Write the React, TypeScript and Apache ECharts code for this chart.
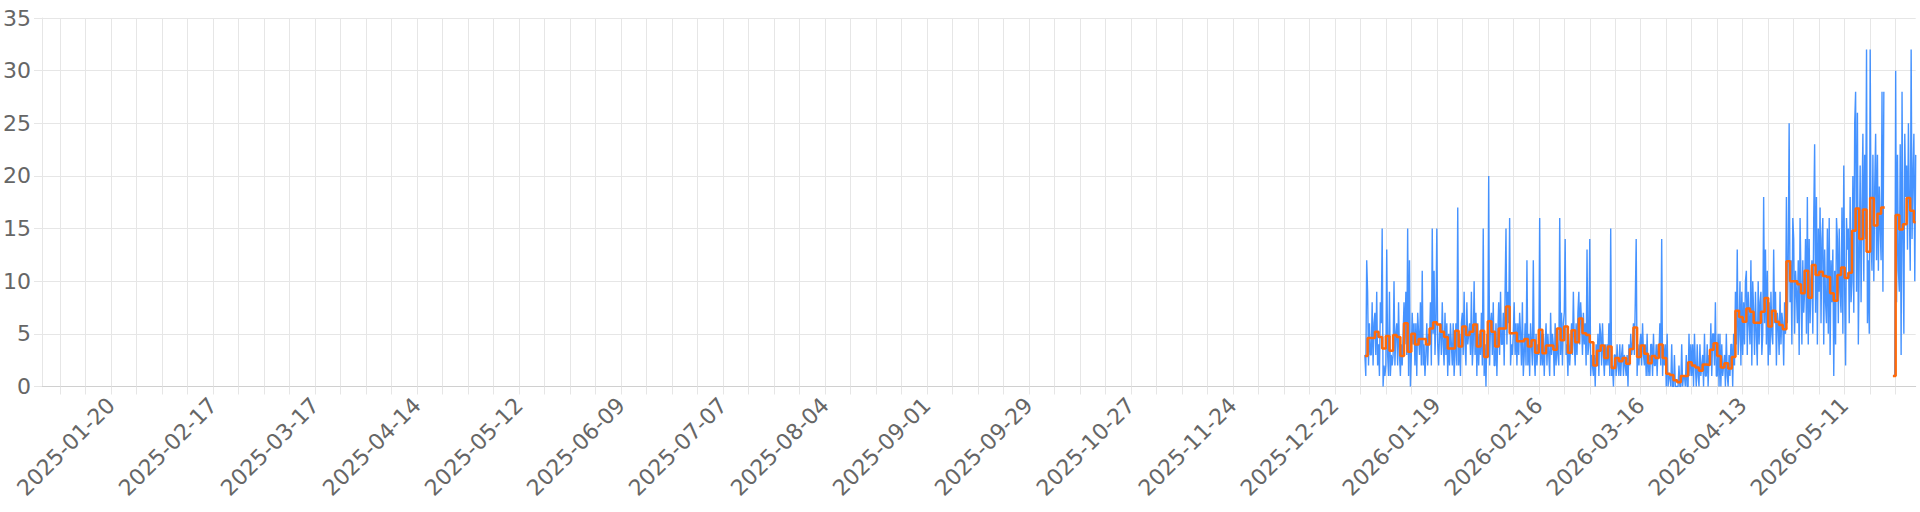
import React, { useEffect, useRef } from "react";
import * as echarts from "echarts";

// ---------- data ----------
const xLabelDates = [
  "2025-01-20", "2025-02-17", "2025-03-17", "2025-04-14", "2025-05-12", "2025-06-09",
  "2025-07-07", "2025-08-04", "2025-09-01", "2025-09-29", "2025-10-27", "2025-11-24",
  "2025-12-22", "2026-01-19", "2026-02-16", "2026-03-16", "2026-04-13", "2026-05-11",
];
const yTicks = [0, 5, 10, 15, 20, 25, 30, 35];

// axis range
const xStart = "2025-01-01T00:00:00Z";
const xEnd = "2026-05-30T12:00:00Z";

// blue series: one sample every 6 hours, starting 2025-12-30 06:00
const blueStart = "2025-12-30T06:00:00Z";
const blueDec = [3, 1, 12, 9, 2, 6, 3];
const blueJan = [
  3, 8, 2, 6, 7, 3, 9, 2, 4, 1, 8, 6, 15, 0, 2, 1, 2, 13, 3, 1, 9, 1, 3, 2, 3, 10, 2, 5,
  6, 2, 8, 3, 1, 4, 2, 5, 8, 4, 9, 3, 15, 1, 12, 0, 3, 7, 4, 6, 2, 6, 1, 7, 5, 3, 8, 2,
  11, 2, 4, 1, 3, 6, 2, 5, 4, 8, 2, 15, 5, 11, 3, 6, 15, 4, 2, 5, 6, 3, 8, 4, 2, 7, 3, 6,
  1, 5, 2, 6, 4, 2, 6, 1, 3, 6, 2, 17, 2, 5, 1, 6, 7, 3, 9, 4, 2, 8, 4, 5, 6, 3, 9, 2,
  4, 10, 3, 7, 1, 6, 2, 5, 3, 7, 2, 15,
];
const blueFeb = [
  1, 4, 0, 5, 3, 20, 2, 6, 7, 3, 8, 2, 2, 6, 1, 5, 8, 3, 9, 4, 4, 7, 2, 9, 15, 4, 9, 6,
  16, 2, 4, 3, 5, 8, 3, 6, 2, 6, 3, 7, 5, 2, 8, 1, 3, 6, 2, 12, 2, 5, 1, 6, 4, 2, 12, 3,
  1, 5, 2, 4, 3, 16, 2, 5, 2, 5, 1, 4, 6, 2, 5, 3, 1, 7, 3, 5, 4, 1, 6, 2, 5, 3, 2, 16,
  3, 7, 2, 6, 7, 14, 3, 4, 1, 5, 2, 4, 6, 3, 9, 4, 2, 6, 3, 7, 9, 4, 8, 6, 3, 7, 4, 6,
];
const blueMar = [
  2, 13, 3, 4, 14, 1, 3, 2, 1, 3, 0, 4, 2, 5, 1, 6, 5, 2, 6, 3, 1, 4, 2, 4, 2, 6, 1, 15,
  1, 2, 0, 3, 3, 1, 4, 2, 1, 4, 1, 3, 4, 1, 3, 2, 1, 3, 0, 4, 2, 5, 3, 4, 6, 3, 8, 14,
  1, 4, 2, 4, 5, 2, 6, 3, 2, 4, 1, 5, 1, 3, 1, 4, 4, 1, 5, 2, 2, 4, 1, 4, 3, 6, 2, 14,
  1, 4, 2, 4, 0, 5, 0, 1, 1, 0, 4, 0, 0, 3, 0, 0, 0, 0, 2, 0, 0, 4, 0, 1, 1, 0, 3, 0,
  0, 5, 1, 4, 1, 4, 0, 5, 2, 0, 4, 1,
];
const blueApr = [
  0, 4, 1, 2, 3, 0, 5, 1, 1, 4, 0, 3, 2, 6, 1, 5, 5, 2, 8, 1, 1, 5, 0, 5, 0, 4, 1, 2,
  3, 0, 5, 1, 0, 3, 1, 4, 4, 0, 5, 2, 9, 4, 13, 3, 5, 10, 2, 9, 3, 8, 4, 10, 11, 3, 9, 6,
  4, 12, 2, 10, 7, 3, 9, 5, 2, 10, 4, 8, 9, 3, 5, 18, 6, 13, 4, 11, 2, 8, 3, 9, 5, 4, 13, 6,
  9, 2, 7, 6, 3, 9, 4, 7, 6, 2, 8, 5, 18, 6, 12, 25, 8, 12, 4, 16, 14, 5, 11, 9, 6, 12, 3, 16,
  10, 4, 12, 7, 9, 14, 5, 18,
];
const blueMay = [
  4, 14, 6, 10, 12, 5, 16, 23, 7, 18, 4, 15, 9, 17, 6, 14, 16, 4, 13, 8, 6, 15, 5, 16,
  3, 12, 8, 13, 1, 11, 4, 16, 14, 6, 15, 9, 7, 17, 5, 21, 9, 2, 16, 13, 15, 6, 18, 8,
  10, 20, 7, 25, 28, 9, 26, 4, 12, 21, 8, 17, 24, 10, 22, 14, 32, 6, 12, 5, 32, 14, 11, 22,
  10, 19, 24, 12, 22, 11, 19, 15, 12, 28, 9, 28,
  null, null, null, null, null, null, null, null, null, 1, 1, 1,
  30, 8, 22, 11, 9, 23, 3, 28, 14, 5, 24, 18, 21, 13, 25, 17, 11, 32, 14, 20, 24, 10, 22,
];

// orange series: one value per day, 2025-12-30 .. 2026-05-30
const orangeFirstDay = "2025-12-30T00:00:00Z";
const orangeDec = [2.9, 4.6];
const orangeJan = [
  4.6, 5.2, 4.7, 3.6, 4.8, 3.4, 4.9, 4.7, 2.9, 6.0, 3.3, 5.0, 4.0, 4.5, 4.5, 4.0,
  5.5, 6.1, 5.9, 5.2, 4.7, 3.6, 3.6, 5.3, 3.8, 5.7, 4.9, 5.2, 5.9, 3.8, 5.3,
];
const orangeFeb = [
  2.8, 6.2, 5.2, 3.8, 5.5, 5.5, 7.6, 5.05, 5.1, 4.3, 4.3, 4.5, 3.8, 4.4, 3.2, 5.4,
  3.15, 3.9, 3.9, 3.5, 5.5, 4.4, 5.7, 3.2, 5.35, 4.2, 6.45, 5.05,
];
const orangeMar = [
  4.9, 4.2, 2.0, 3.4, 3.9, 2.7, 3.8, 1.75, 2.7, 2.4, 2.7, 2.15, 3.55, 5.6, 2.8, 3.9,
  3.1, 2.2, 2.9, 2.7, 4.0, 2.7, 1.2, 1.1, 0.6, 0.4, 1.0, 1.0, 2.3, 2.0, 1.8,
];
const orangeApr = [
  1.5, 2.1, 2.05, 3.5, 4.1, 2.9, 1.8, 2.2, 1.7, 2.8, 7.2, 6.6, 6.15, 7.4, 7.1, 6.06,
  6.06, 7.1, 8.4, 5.7, 7.2, 6.15, 5.84, 5.43, 11.9, 10.0, 10.0, 9.7, 8.85, 11.0,
];
const orangeMay = [
  8.43, 11.54, 10.6, 10.9, 10.5, 10.4, 8.85, 8.15, 10.6, 11.3, 10.3, 10.8, 14.8, 16.9, 14.0, 16.8,
  12.8, 17.9, 15.3, 16.4, 17.0, null, null, 1.0, 16.3, 14.9, 15.4, 17.9, 16.7, 15.6,
];

// ---------- helpers ----------
const HOUR = 3600000;
const DAY = 24 * HOUR;
const toTs = (s: string) => Date.parse(s);
const fmt = (v: number) => new Date(v).toISOString().slice(0, 10);

function buildBlue() {
  const vals = [...blueDec, ...blueJan, ...blueFeb, ...blueMar, ...blueApr, ...blueMay];
  const t0 = toTs(blueStart);
  return vals.map((v, i) => [t0 + i * 6 * HOUR, v == null ? "-" : v]);
}

function buildOrange(blue: any[]) {
  const vals = [...orangeDec, ...orangeJan, ...orangeFeb, ...orangeMar, ...orangeApr, ...orangeMay];
  const d0 = toTs(orangeFirstDay);
  const out: any[] = [];
  vals.forEach((v, i) => {
    const ds = d0 + i * DAY;
    const de = ds + DAY;
    if (v == null) {
      out.push([ds + DAY / 2, "-"]);
      return;
    }
    const inDay = blue.filter((p) => p[0] >= ds && p[0] < de && p[1] !== "-").map((p) => p[0]);
    const isLast = i === vals.length - 1;
    const prevNull = i === 0 || vals[i - 1] == null;
    const s = prevNull ? Math.min(...inDay) : ds;
    const e = isLast ? Math.max(...inDay) : de;
    out.push([s, v]);
    out.push([e, v]);
  });
  return out;
}

function weekTicks() {
  const res: number[] = [];
  const end = toTs(xEnd);
  for (let t = toTs("2025-01-06T00:00:00Z"); t <= end; t += 7 * DAY) res.push(t);
  return res;
}

const GRID = "#e6e6e6";
const FONT = "'DejaVu Sans', sans-serif";

export default function App() {
  const ref = useRef<HTMLDivElement>(null);
  useEffect(() => {
    document.body.style.margin = "0";
    const chart = echarts.init(ref.current!, null, { renderer: "svg" });
    const blue = buildBlue();
    const orange = buildOrange(blue);
    chart.setOption({
      animation: false,
      grid: { left: 41, right: 4.3, top: 18, bottom: 125.5 },
      xAxis: {
        type: "value",
        min: toTs(xStart),
        max: toTs(xEnd),
        axisLine: { show: true, lineStyle: { color: "#d0d0d0", width: 1 } },
        axisTick: { show: true, length: 8, customValues: weekTicks(), lineStyle: { color: GRID } },
        splitLine: { show: true, lineStyle: { color: GRID, width: 1 } },
        axisLabel: {
          customValues: xLabelDates.map((s) => toTs(s + "T00:00:00Z")),
          formatter: (v: number) => fmt(v),
          rotate: 45,
          color: "#666",
          fontSize: 22,
          fontFamily: FONT,
          margin: 15,
        },
      },
      yAxis: {
        type: "value",
        min: yTicks[0],
        max: yTicks[yTicks.length - 1],
        interval: yTicks[1] - yTicks[0],
        axisLine: { show: true, lineStyle: { color: GRID } },
        axisTick: { show: true, length: 8, lineStyle: { color: GRID } },
        splitLine: { show: true, lineStyle: { color: GRID } },
        axisLabel: { color: "#666", fontSize: 22, fontFamily: FONT, margin: 11 },
      },
      series: [
        {
          type: "line",
          data: blue,
          showSymbol: false,
          symbol: "none",
          connectNulls: false,
          lineStyle: { color: "rgb(38,128,255)", width: 1.4, opacity: 0.85 },
          silent: true,
          z: 2,
        },
        {
          type: "line",
          data: orange,
          showSymbol: false,
          symbol: "none",
          connectNulls: false,
          lineStyle: { color: "#ff6a0a", width: 2.5 },
          silent: true,
          z: 3,
        },
      ],
    });
    return () => chart.dispose();
  }, []);
  return <div ref={ref} style={{ width: 1920, height: 512 }} />;
}
